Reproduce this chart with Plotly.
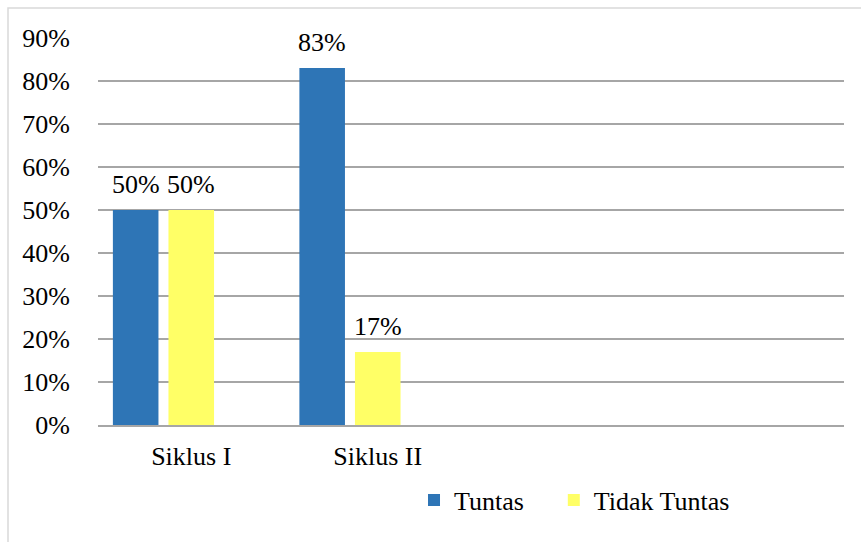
import plotly.graph_objects as go

categories = ["Siklus I", "Siklus II"]
cat_pos = [0, 1]
tuntas = [0.50, 0.83]
tidak_tuntas = [0.50, 0.17]
blank_series = [0, 0]
y_ticks = [0, 0.1, 0.2, 0.3, 0.4, 0.5, 0.6, 0.7, 0.8, 0.9]

FONT = "Liberation Serif"
FS = 26
BARGAP = 0.106
N_SLOTS = 3
SLOT = (1 - BARGAP) / N_SLOTS

fig = go.Figure()
fig.add_trace(go.Bar(x=cat_pos, y=tuntas, name="Tuntas", legend="legend",
                     marker=dict(color="#2E75B6", line_width=0)))
fig.add_trace(go.Bar(x=cat_pos, y=tidak_tuntas, name="Tidak Tuntas", legend="legend2",
                     marker=dict(color="#FFFF66", line_width=0)))
fig.add_trace(go.Bar(x=cat_pos, y=blank_series, name="", showlegend=False,
                     marker=dict(color="rgba(0,0,0,0)", line_width=0), hoverinfo="skip"))

# data labels, placed from the data values
for k, series in enumerate([tuntas, tidak_tuntas]):
    for xc, v in zip(cat_pos, series):
        fig.add_annotation(x=xc + (k - 1) * SLOT, y=v, text=f"{v:.0%}", showarrow=False,
                           yanchor="bottom", xanchor="center", yshift=9,
                           font=dict(family=FONT, size=FS, color="black"))

legend_style = dict(orientation="h", xanchor="left", y=-0.194, yanchor="middle",
                    font=dict(family=FONT, size=FS, color="black"),
                    bgcolor="rgba(0,0,0,0)")

fig.update_layout(
    width=861, height=542,
    margin=dict(l=98, r=17, t=38, b=117),
    paper_bgcolor="white", plot_bgcolor="white",
    barmode="group", bargap=BARGAP, bargroupgap=0.18,
    font=dict(family=FONT, size=FS, color="black"),
    showlegend=True,
    legend=dict(x=0.4236, **legend_style),
    legend2=dict(x=0.611, **legend_style),
    xaxis=dict(range=[-0.5, 3.5], tickvals=cat_pos, ticktext=categories, showgrid=False,
               zeroline=False, showline=True, linecolor="#A6A6A6", linewidth=1.5,
               ticks="outside", ticklen=7, tickcolor="rgba(0,0,0,0)", fixedrange=True),
    yaxis=dict(range=[0, 0.9], tickvals=y_ticks, tickformat=".0%", showgrid=True,
               gridcolor="#A6A6A6", gridwidth=1.5, zeroline=False, showline=False,
               ticks="outside", ticklen=22, tickcolor="rgba(0,0,0,0)", fixedrange=True),
)

fig.add_shape(type="rect", xref="paper", yref="paper",
              x0=(8 - 98) / 746, x1=(875 - 98) / 746, y0=(425 - 560) / 387, y1=(425 - 8) / 387,
              line=dict(color="#D9D9D9", width=1.5), fillcolor="rgba(0,0,0,0)", layer="below")

fig.write_html("out.html")
